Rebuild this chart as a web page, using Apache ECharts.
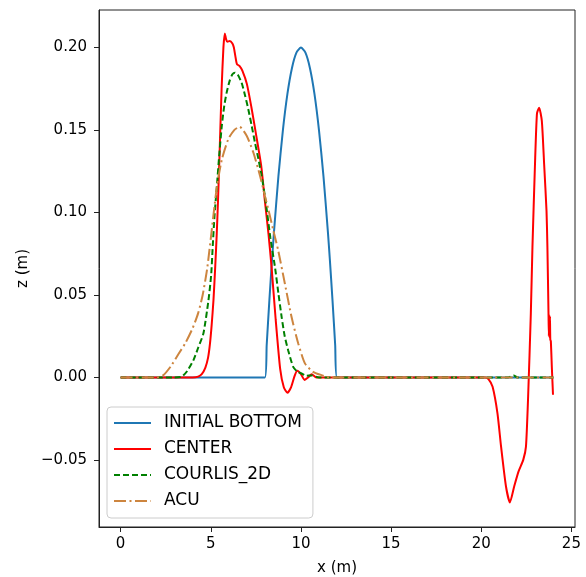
<!DOCTYPE html>
<html><head><meta charset="utf-8">
<script src="https://cdn.jsdelivr.net/npm/echarts@6/dist/echarts.min.js"></script>
<style>html,body{margin:0;padding:0;background:#fff}#c{width:586px;height:577px}</style>
</head><body><div id="c"></div>
<script>
const xTicks = [0, 5, 10, 15, 20, 25];
const yTicks = [-0.05, 0, 0.05, 0.10, 0.15, 0.20];
const seriesNames = ['INITIAL BOTTOM', 'CENTER', 'COURLIS_2D', 'ACU'];

const initialX = [0, 8, 8.1, 8.25, 8.4, 8.5, 8.75, 9, 9.25, 9.5, 9.75, 10, 10.25, 10.5, 10.75, 11, 11.25, 11.5, 11.6, 11.75, 11.9, 12, 24];
const initialZ = [0, 0, 0.0195, 0.0469, 0.072, 0.0875, 0.1219, 0.15, 0.1719, 0.1875, 0.1969, 0.2, 0.1969, 0.1875, 0.1719, 0.15, 0.1219, 0.0875, 0.072, 0.0469, 0.0195, 0, 0];

const centerX = [0, 4.0, 4.3, 4.5, 4.7, 4.85, 4.95, 5.05, 5.15, 5.25, 5.33, 5.40, 5.50, 5.60, 5.70, 5.78, 5.85, 5.92, 6.05, 6.2, 6.28, 6.36, 6.45, 6.6, 6.75, 7.0, 7.25, 7.5, 7.8, 8.0, 8.2, 8.37, 8.6, 8.85, 9.05, 9.25, 9.45, 9.65, 9.8, 10.0, 10.2, 10.4, 10.6, 10.85, 11.2, 20.2, 20.4, 20.63, 20.9, 21.1, 21.37, 21.59, 21.83, 22.07, 22.33, 22.48, 22.6, 22.75, 22.84, 22.98, 23.09, 23.21, 23.36, 23.49, 23.62, 23.67, 23.73, 23.75, 23.77, 23.79, 23.81, 23.83, 23.86, 23.92, 23.98];
const centerZ = [0, 0, 0.0005, 0.002, 0.006, 0.012, 0.02, 0.032, 0.047, 0.068, 0.087, 0.107, 0.140, 0.175, 0.200, 0.2086, 0.205, 0.2035, 0.204, 0.2025, 0.200, 0.195, 0.190, 0.1888, 0.186, 0.178, 0.164, 0.148, 0.128, 0.107, 0.087, 0.067, 0.035, 0.005, -0.006, -0.0093, -0.006, 0.001, 0.004, 0.002, -0.0015, 0.0, 0.002, 0.0, 0.0, 0.0, -0.001, -0.0057, -0.0218, -0.042, -0.066, -0.0758, -0.066, -0.057, -0.050, -0.042, -0.0117, 0.0387, 0.079, 0.129, 0.16, 0.1636, 0.1556, 0.129, 0.101, 0.079, 0.039, 0.025, 0.038, 0.024, 0.037, 0.023, 0.022, 0.005, -0.0105];

const courlisX = [0, 3.0, 3.4, 3.7, 4.04, 4.3, 4.59, 4.87, 5.02, 5.11, 5.2, 5.33, 5.47, 5.61, 5.75, 5.88, 6.05, 6.2, 6.34, 6.5, 6.71, 6.9, 7.08, 7.27, 7.45, 7.64, 7.82, 8.0, 8.1, 8.3, 8.56, 8.75, 8.93, 9.1, 9.29, 9.57, 9.8, 10.03, 10.3, 10.6, 11.0, 21.5, 21.8, 22.0, 22.2, 24];
const courlisZ = [0, 0, 0.0005, 0.004, 0.0105, 0.018, 0.0266, 0.0467, 0.062, 0.080, 0.097, 0.115, 0.135, 0.1525, 0.165, 0.1727, 0.180, 0.1838, 0.1848, 0.1835, 0.1787, 0.171, 0.1626, 0.1525, 0.1424, 0.1325, 0.1223, 0.110, 0.102, 0.085, 0.0669, 0.051, 0.0366, 0.025, 0.0165, 0.0064, 0.0035, 0.0024, 0.001, 0.0012, 0.0, 0.0, 0.0012, 0.0, 0.0, 0];

const acuX = [0, 2.0, 2.38, 2.8, 3.2, 3.6, 4.0, 4.3, 4.55, 4.8, 5.06, 5.33, 5.61, 5.97, 6.3, 6.6, 6.99, 7.36, 7.73, 8.0, 8.19, 8.45, 8.74, 9.11, 9.48, 9.85, 10.22, 10.67, 11.14, 11.6, 24];
const acuZ = [0, 0, 0.0015, 0.007, 0.014, 0.021, 0.030, 0.039, 0.050, 0.066, 0.090, 0.115, 0.132, 0.1445, 0.150, 0.152, 0.1465, 0.1364, 0.1223, 0.110, 0.102, 0.090, 0.077, 0.0568, 0.0366, 0.0206, 0.0085, 0.0034, 0.0014, 0, 0];

function pairs(xs, zs) { return xs.map((x, i) => [x, zs[i]]); }
const FONT = 'DejaVu Sans';
const AX = '#222';

function lineSeries(name, xs, zs, color, type) {
  return {name: name, type: 'line', data: pairs(xs, zs), symbol: 'none', showSymbol: false,
    smooth: 0.2,
    lineStyle: {color: color, width: 2, type: type}, itemStyle: {color: color}};
}

const chart = echarts.init(document.getElementById('c'), null, {renderer: 'canvas'});
chart.setOption({
  animation: false,
  grid: {left: 99, top: 10, width: 476, height: 517, outerBoundsMode: 'none', containLabel: false,
         show: true, borderColor: AX, borderWidth: 1, backgroundColor: 'transparent'},
  xAxis: {
    type: 'value', min: -1.2, max: 25.2,
    name: 'x (m)', nameLocation: 'middle', nameGap: 34,
    nameTextStyle: {fontFamily: FONT, fontSize: 15, color: '#000'},
    axisLine: {show: true, onZero: false, lineStyle: {color: AX, width: 1}},
    axisTick: {show: true, inside: false, length: 5, lineStyle: {color: AX, width: 1}, customValues: xTicks},
    axisLabel: {customValues: xTicks, margin: 10, fontSize: 15, fontFamily: FONT, color: '#000', formatter: v => String(v)},
    splitLine: {show: false}
  },
  yAxis: {
    type: 'value', min: -0.0907, max: 0.2228,
    name: 'z (m)', nameLocation: 'middle', nameGap: 60, nameRotate: 90,
    nameTextStyle: {fontFamily: FONT, fontSize: 15, color: '#000'},
    axisLine: {show: true, onZero: false, lineStyle: {color: AX, width: 1}},
    axisTick: {show: true, inside: false, length: 5, lineStyle: {color: AX, width: 1}, customValues: yTicks},
    axisLabel: {customValues: yTicks, margin: 12, fontSize: 15, fontFamily: FONT, color: '#000',
      formatter: v => (v < -1e-9 ? '\u2212' : '') + Math.abs(v).toFixed(2)},
    splitLine: {show: false}
  },
  legend: {
    left: 107, top: 407, orient: 'vertical',
    data: seriesNames,
    itemWidth: 37, itemHeight: 14, itemGap: 8,
    padding: [7, 11, 8, 6],
    itemStyle: {opacity: 0},
    backgroundColor: 'rgba(255,255,255,0.8)', borderColor: '#cccccc', borderWidth: 1, borderRadius: 4,
    textStyle: {fontFamily: FONT, fontSize: 17, color: '#000', lineHeight: 18, padding: [0, 0, 0, 8]}
  },
  series: [
    lineSeries(seriesNames[0], initialX, initialZ, '#1f77b4', 'solid'),
    lineSeries(seriesNames[1], centerX, centerZ, '#ff0000', 'solid'),
    lineSeries(seriesNames[2], courlisX, courlisZ, '#008000', [6, 3]),
    lineSeries(seriesNames[3], acuX, acuZ, '#cd853f', [12, 3.5, 2, 3.5])
  ]
});
</script></body></html>
